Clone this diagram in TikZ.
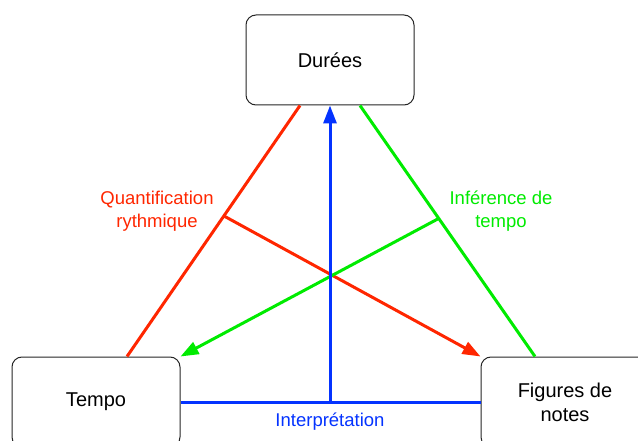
\documentclass[tikz,border=0pt]{standalone}
\usepackage{fontspec}
\setmainfont{Liberation Sans}
\usetikzlibrary{arrows.meta,positioning}
\definecolor{quantred}{RGB}{255,38,0}
\definecolor{infgreen}{RGB}{0,235,0}
\definecolor{interpblue}{RGB}{4,51,255}

\begin{document}
\begin{tikzpicture}[x=1pt,y=-1pt,
    box/.style={draw=black!85, line width=1pt, rounded corners=10pt, fill=white,
      minimum width=168pt, minimum height=90pt, align=center,
      font=\fontsize{20}{24}\selectfont},
    lbl/.style={align=center, font=\fontsize{18.5}{23}\selectfont},
    link/.style={line width=3pt},
    tip/.style={-{Triangle[length=18pt,width=13pt]}}]
      \useasboundingbox (0,0) rectangle (638,441);
      \node[box] (duree) at (330,60) {Durées}; % top
      \node[box] (tempo) at (96,402) {Tempo}; % left
      \node[box] (figures) at (565,402) {Figures de\\notes}; % right
      % ends of the two sides
      \coordinate (redtop) at ([xshift=-30pt]duree.south);
      \coordinate (redbot) at ([xshift=31pt]tempo.north);
      \coordinate (greentop) at ([xshift=30pt]duree.south);
      \coordinate (greenbot) at ([xshift=-30pt]figures.north);
      % red
      \draw[link, quantred] (redtop) -- coordinate[pos=0.44] (redmid) (redbot);
      \draw[link, quantred, tip] (redmid) -- (figures.north west);
      % green
      \draw[link, infgreen] (greentop) -- coordinate[pos=0.45] (greenmid) (greenbot);
      \draw[link, infgreen, tip] (greenmid) -- (tempo.north east);
      % blue
      \draw[link, interpblue] (tempo.east) -- (figures.west);
      \draw[link, interpblue, tip] (duree.south |- tempo.east) -- (duree.south);
      \node[lbl, text=quantred] (quant) at (157,211) {Quantification\\rythmique};
      \node[lbl, text=infgreen] (inf) at (501,211) {Inférence de\\tempo};
      \node[lbl, text=interpblue] (interp) at (330,422) {Interprétation};
    \end{tikzpicture}
\end{document}
